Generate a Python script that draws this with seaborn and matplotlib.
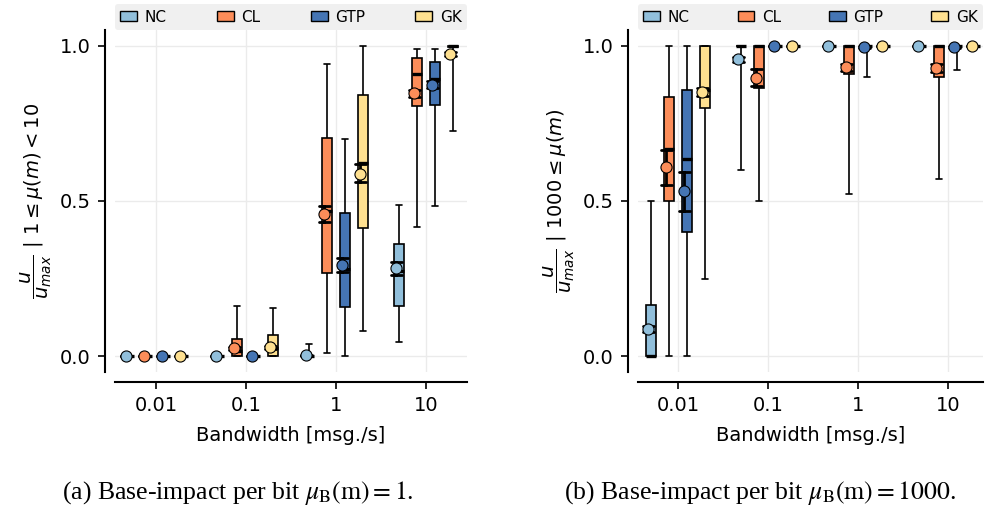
import numpy as np
import pandas as pd
import matplotlib
matplotlib.use("Agg")
import matplotlib.pyplot as plt
import seaborn as sns
from matplotlib.patches import Patch
from matplotlib.transforms import offset_copy

CATEGORIES = ["0.01", "0.1", "1", "10"]
METHODS = ["NC", "CL", "GTP", "GK"]
COLORS = ["#91bfdb", "#fc8d59", "#4575b4", "#fee090"]

# ---- panel (a): five-number summaries (min, q1, median, q3, max) per bandwidth
A_NC_BOX = [(0, 0, 0, 0, 0), (0, 0, 0, 0, 0), (0, 0, 0, 0, 0.04),
            (0.045, 0.163, 0.275, 0.362, 0.487)]
A_CL_BOX = [(0, 0, 0, 0, 0), (0, 0, 0.018, 0.056, 0.163),
            (0.011, 0.267, 0.468, 0.703, 0.942), (0.415, 0.807, 0.910, 0.961, 0.990)]
A_GTP_BOX = [(0, 0, 0, 0, 0), (0, 0, 0, 0, 0),
             (0, 0.158, 0.281, 0.463, 0.698), (0.485, 0.809, 0.893, 0.946, 0.990)]
A_GK_BOX = [(0, 0, 0, 0, 0), (0, 0, 0.026, 0.068, 0.155),
            (0.081, 0.413, 0.621, 0.842, 1.0), (0.725, 0.995, 1.0, 1.0, 1.0)]
# means and 95% CI of the mean
A_NC_MEAN = [0, 0, 0.004, 0.283]
A_CL_MEAN = [0, 0.026, 0.457, 0.847]
A_GTP_MEAN = [0, 0, 0.294, 0.874]
A_GK_MEAN = [0, 0.029, 0.588, 0.973]
A_NC_CI = [(0, 0), (0, 0), (0.003, 0.005), (0.262, 0.304)]
A_CL_CI = [(0, 0), (0.022, 0.030), (0.434, 0.484), (0.836, 0.858)]
A_GTP_CI = [(0, 0), (0, 0), (0.271, 0.317), (0.862, 0.886)]
A_GK_CI = [(0, 0), (0.025, 0.033), (0.561, 0.619), (0.966, 0.980)]

# ---- panel (b)
B_NC_BOX = [(0, 0, 0, 0.166, 0.5), (0.6, 1, 1, 1, 1), (1, 1, 1, 1, 1), (1, 1, 1, 1, 1)]
B_CL_BOX = [(0, 0.5, 0.667, 0.833, 1.0), (0.5, 0.862, 1.0, 1.0, 1.0),
            (0.521, 0.909, 1.0, 1.0, 1.0), (0.572, 0.9, 1.0, 1.0, 1.0)]
B_GTP_BOX = [(0, 0.4, 0.636, 0.857, 1.0), (1, 1, 1, 1, 1),
             (0.9, 1, 1, 1, 1), (0.921, 1, 1, 1, 1)]
B_GK_BOX = [(0.25, 0.8, 0.857, 1.0, 1.0), (1, 1, 1, 1, 1), (1, 1, 1, 1, 1), (1, 1, 1, 1, 1)]
B_NC_MEAN = [0.088, 0.956, 0.998, 0.999]
B_CL_MEAN = [0.608, 0.897, 0.930, 0.928]
B_GTP_MEAN = [0.532, 0.998, 0.994, 0.996]
B_GK_MEAN = [0.850, 0.998, 0.999, 0.998]
B_NC_CI = [(0.078, 0.098), (0.948, 0.964), (0.997, 0.999), (0.998, 1.0)]
B_CL_CI = [(0.553, 0.663), (0.870, 0.924), (0.918, 0.942), (0.916, 0.940)]
B_GTP_CI = [(0.469, 0.594), (0.997, 0.999), (0.991, 0.997), (0.993, 0.999)]
B_GK_CI = [(0.838, 0.862), (0.997, 0.999), (0.998, 1.0), (0.997, 0.999)]

X_LABEL = "Bandwidth [msg./s]"
Y_LABEL_A = r"$\dfrac{u}{u_{max}}$ $|$ $1 \leq \mu(m) < 10$"
Y_LABEL_B = r"$\dfrac{u}{u_{max}}$ $|$ $1000 \leq \mu(m)$"
CAPTION_A = r"(a) Base-impact per bit $\mu_{\mathrm{B}}(\mathrm{m}) = 1$."
CAPTION_B = r"(b) Base-impact per bit $\mu_{\mathrm{B}}(\mathrm{m}) = 1000$."


def box_frame(boxes):
    rows = []
    for m, per_cat in zip(METHODS, boxes):
        for c, stats in zip(CATEGORIES, per_cat):
            for v in stats:
                rows.append((c, m, v))
    return pd.DataFrame(rows, columns=["bw", "method", "u"])


def mean_frame(means, cis):
    rows = []
    for m, mu, ci in zip(METHODS, means, cis):
        for c, mv, (lo, hi) in zip(CATEGORIES, mu, ci):
            for v in (lo, mv, hi):
                rows.append((c, m, v))
    return pd.DataFrame(rows, columns=["bw", "method", "u"])


sns.set_theme(style="ticks")
plt.rcParams["font.family"] = ["DejaVu Sans"]
plt.rcParams["mathtext.fontset"] = "dejavusans"
for k in ("text.color", "axes.labelcolor", "xtick.color", "ytick.color", "axes.edgecolor"):
    plt.rcParams[k] = "black"

fig = plt.figure(figsize=(9.85, 5.16), dpi=100)
W, H = 985, 516
ax1 = fig.add_axes([115 / W, 1 - 372 / H, 352 / W, 342 / H])
ax2 = fig.add_axes([638 / W, 1 - 372 / H, 345 / W, 342 / H])

panels = [
    (ax1, [A_NC_BOX, A_CL_BOX, A_GTP_BOX, A_GK_BOX],
     [A_NC_MEAN, A_CL_MEAN, A_GTP_MEAN, A_GK_MEAN],
     [A_NC_CI, A_CL_CI, A_GTP_CI, A_GK_CI], Y_LABEL_A, (-0.456, 3.456)),
    (ax2, [B_NC_BOX, B_CL_BOX, B_GTP_BOX, B_GK_BOX],
     [B_NC_MEAN, B_CL_MEAN, B_GTP_MEAN, B_GK_MEAN],
     [B_NC_CI, B_CL_CI, B_GTP_CI, B_GK_CI], Y_LABEL_B, (-0.444, 3.39)),
]

for ax, boxes, means, cis, ylab, xlim in panels:
    df = box_frame(boxes)
    dm = mean_frame(means, cis)
    sns.boxplot(data=df, x="bw", y="u", hue="method", order=CATEGORIES,
                hue_order=METHODS, palette=COLORS, saturation=1, width=0.8,
                gap=0.45, whis=(0, 100), showfliers=False, linecolor="black",
                linewidth=1.2, medianprops=dict(color="black", linewidth=2.4),
                capwidths=0.07, legend=False, ax=ax)
    n0 = len(ax.lines)
    sns.pointplot(data=dm, x="bw", y="u", hue="method", order=CATEGORIES,
                  hue_order=METHODS, palette=COLORS, estimator="median",
                  errorbar=("pi", 100), dodge=0.6, linestyle="none", markers="o",
                  markersize=8, markeredgecolor="black", markeredgewidth=0.8,
                  capsize=0.12, err_kws=dict(color="black", linewidth=2),
                  legend=False, ax=ax)
    for ln in ax.lines[n0:]:
        ln.set_transform(offset_copy(ln.get_transform(), fig=fig, x=-2.8, y=0, units="dots"))
        ln.set_zorder(5 if ln.get_marker() == "o" else 4.5)

    ax.set_xlim(*xlim)
    ax.set_ylim(-0.05, 1.05)
    ax.set_yticks([0, 0.5, 1.0])
    ax.set_yticklabels(["0.0", "0.5", "1.0"])
    ax.set_xticks(range(len(CATEGORIES)))
    ax.set_xticklabels(CATEGORIES)
    ax.grid(True, color="#ebebeb", linewidth=1)
    ax.set_axisbelow(True)
    for s in ("top", "right"):
        ax.spines[s].set_visible(False)
    for s in ("left", "bottom"):
        ax.spines[s].set_position(("outward", 7.5))
        ax.spines[s].set_linewidth(1.5)
    ax.tick_params(axis="both", labelsize=14, length=5, width=1.2, pad=5)
    ax.set_xlabel(X_LABEL, fontsize=14, labelpad=8)
    ax.set_ylabel(ylab, fontsize=14, labelpad=4)

    handles = [Patch(facecolor=c, edgecolor="black", linewidth=1, label=m)
               for m, c in zip(METHODS, COLORS)]
    leg = ax.legend(handles=handles, ncol=4, loc="lower left",
                    bbox_to_anchor=(0, 1.0, 1, 0), mode="expand", borderaxespad=0,
                    frameon=True, fontsize=11, handlelength=1.1, handleheight=0.65,
                    handletextpad=0.5, borderpad=0.35, fancybox=True)
    fr = leg.get_frame()
    fr.set_facecolor("#f0f0f0")
    fr.set_edgecolor("none")
    fr.set_alpha(1)

fig.text(238 / W, 1 - 493 / H, CAPTION_A, ha="center", va="center", fontsize=18.5,
         family="Liberation Serif", math_fontfamily="stix")
fig.text(760 / W, 1 - 493 / H, CAPTION_B, ha="center", va="center", fontsize=18.5,
         family="Liberation Serif", math_fontfamily="stix")

fig.savefig("out.png", dpi=100)
